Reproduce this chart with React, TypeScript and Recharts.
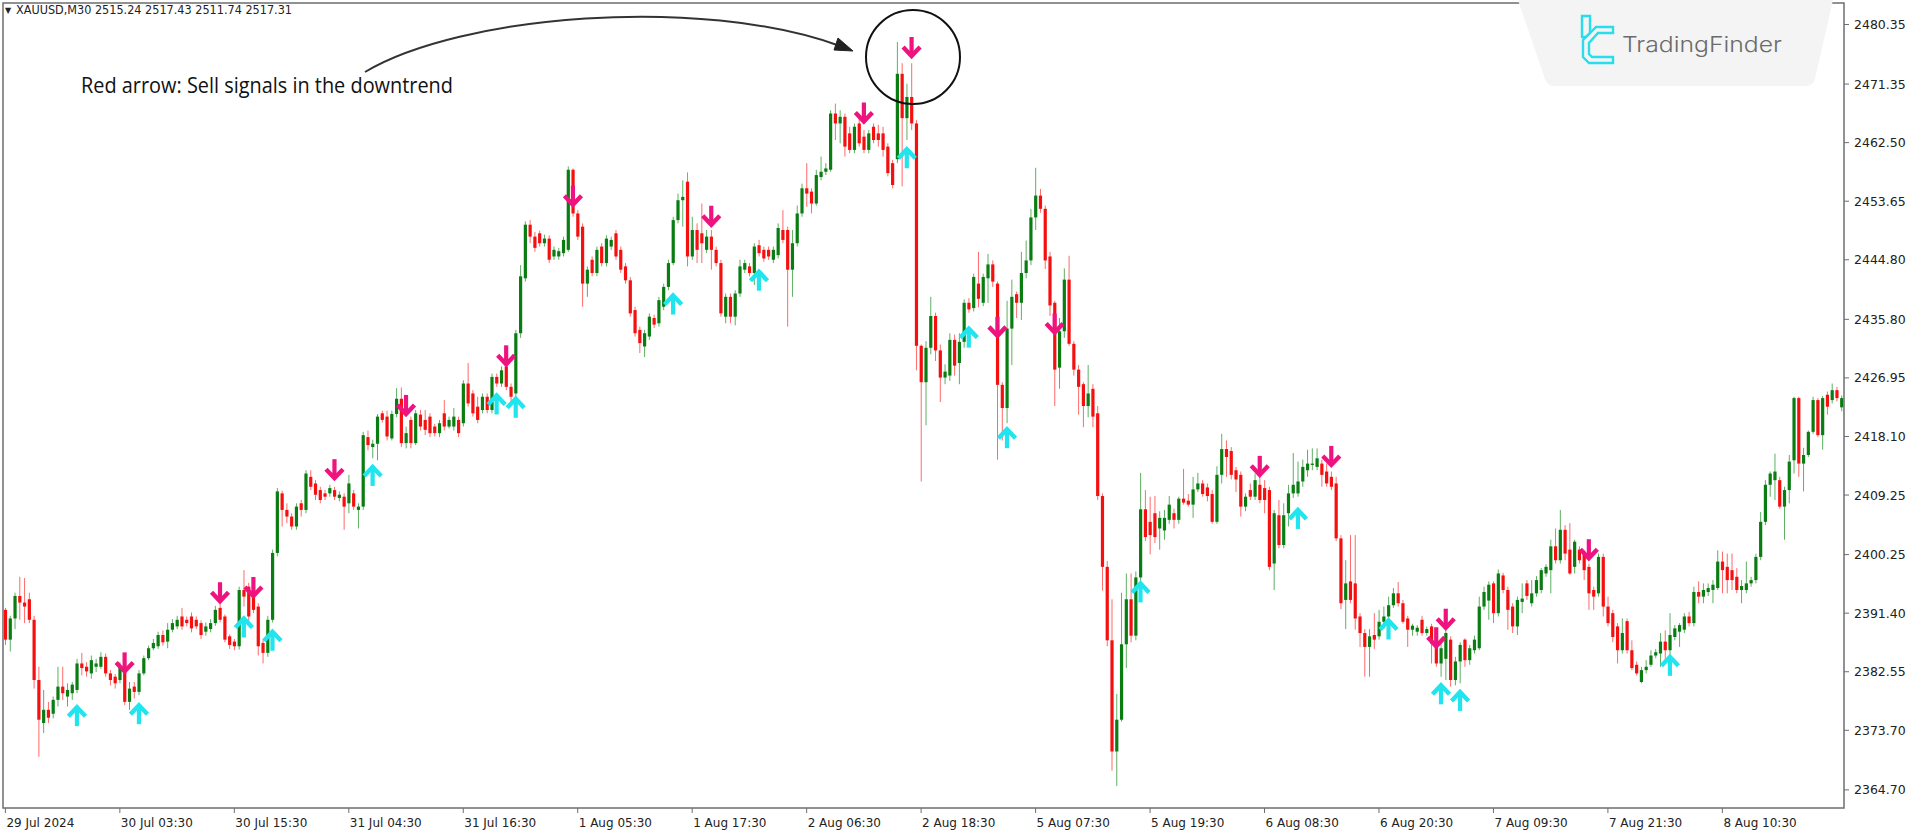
import React from "react";
import { ComposedChart, Bar, Line, XAxis, YAxis } from "recharts";

type C = [number, number, number, number]; // open, high, low, close

const jul29: C[] = [
  [2391.9, 2392.2, 2386.6, 2387.4], [2387.4, 2391.0, 2385.6, 2390.6], [2390.6, 2394.5, 2389.0, 2394.0], [2394.0, 2396.9, 2390.4, 2393.0],
  [2393.0, 2396.7, 2389.9, 2392.4], [2393.5, 2394.5, 2389.9, 2390.4], [2390.4, 2391.0, 2380.0, 2381.3], [2381.3, 2383.3, 2369.7, 2375.3],
  [2374.8, 2379.8, 2373.3, 2376.8], [2376.8, 2378.0, 2374.8, 2375.6], [2376.2, 2378.8, 2375.5, 2378.3], [2378.3, 2383.3, 2377.3, 2380.3],
  [2380.3, 2383.3, 2378.3, 2379.3], [2378.8, 2380.8, 2377.3, 2379.8], [2379.3, 2381.0, 2378.3, 2380.6], [2379.8, 2384.5, 2379.3, 2383.8],
  [2383.8, 2385.4, 2382.0, 2383.1], [2383.3, 2384.0, 2381.8, 2382.6], [2382.3, 2385.0, 2381.5, 2384.3],
];
const jul30: C[] = [
  [2383.3, 2384.5, 2382.5, 2383.8], [2383.3, 2385.5, 2383.0, 2384.8], [2384.8, 2385.3, 2381.8, 2382.3], [2382.3, 2382.8, 2380.5, 2381.3],
  [2381.8, 2382.2, 2380.0, 2380.8], [2381.3, 2384.0, 2380.8, 2383.3], [2383.3, 2384.3, 2377.5, 2378.0], [2378.0, 2381.0, 2376.8, 2380.0],
  [2380.3, 2381.0, 2378.5, 2379.5], [2379.5, 2382.8, 2379.0, 2382.3], [2382.3, 2385.0, 2382.0, 2384.6], [2384.6, 2386.5, 2384.3, 2386.1],
  [2386.1, 2387.5, 2385.8, 2386.9], [2386.4, 2388.6, 2386.0, 2388.1], [2388.1, 2388.8, 2386.5, 2387.0], [2387.1, 2389.9, 2386.1, 2388.9],
  [2388.9, 2390.5, 2388.5, 2389.9], [2389.4, 2391.0, 2389.0, 2390.4], [2390.9, 2392.2, 2388.9, 2389.4], [2390.4, 2390.9, 2389.4, 2389.9],
  [2390.9, 2391.5, 2388.5, 2389.1], [2390.4, 2390.9, 2389.0, 2389.4], [2389.9, 2390.3, 2387.5, 2388.1], [2388.6, 2390.0, 2388.0, 2389.4],
  [2389.0, 2390.5, 2388.5, 2389.9], [2389.9, 2392.5, 2389.5, 2391.9], [2392.2, 2392.8, 2390.0, 2390.4], [2390.9, 2391.2, 2387.0, 2387.4],
  [2387.9, 2388.2, 2386.0, 2386.6], [2387.1, 2387.5, 2385.8, 2386.4], [2386.4, 2395.4, 2385.9, 2394.9], [2394.9, 2397.9, 2392.4, 2393.9],
  [2395.4, 2396.0, 2390.0, 2390.9], [2394.9, 2396.5, 2391.4, 2391.9], [2392.4, 2392.9, 2385.0, 2386.4], [2386.9, 2387.5, 2383.8, 2385.4],
  [2385.4, 2391.0, 2384.8, 2390.4], [2390.4, 2401.0, 2390.0, 2400.5], [2400.5, 2410.3, 2400.0, 2409.8], [2409.5, 2409.9, 2404.5, 2407.0],
  [2407.0, 2408.0, 2405.0, 2406.0], [2406.0, 2406.5, 2404.0, 2404.5], [2404.5, 2408.0, 2404.0, 2407.5], [2408.0, 2408.5, 2406.0, 2407.0],
  [2407.0, 2413.0, 2406.5, 2412.5], [2412.0, 2413.0, 2410.0, 2410.5],
];
const jul31: C[] = [
  [2411.0, 2411.5, 2408.5, 2409.3], [2410.0, 2410.5, 2408.0, 2408.5], [2409.5, 2410.0, 2408.5, 2409.0], [2409.5, 2410.8, 2409.0, 2410.3],
  [2410.0, 2410.5, 2408.5, 2409.0], [2408.8, 2409.8, 2408.3, 2409.3], [2409.0, 2409.5, 2404.0, 2407.5], [2408.0, 2412.3, 2406.5, 2411.0],
  [2409.5, 2410.0, 2407.0, 2407.5], [2407.0, 2408.0, 2404.2, 2407.5], [2407.5, 2418.8, 2407.0, 2418.3], [2418.0, 2419.0, 2416.0, 2416.8],
  [2416.5, 2417.6, 2414.8, 2417.0], [2417.0, 2421.5, 2414.5, 2421.1], [2421.6, 2422.0, 2420.2, 2420.6], [2421.1, 2422.0, 2417.5, 2418.1],
  [2417.8, 2422.0, 2417.5, 2421.5], [2421.5, 2425.4, 2421.0, 2423.8], [2423.8, 2425.5, 2416.5, 2417.1], [2417.1, 2419.6, 2416.3, 2418.6],
  [2420.6, 2421.1, 2416.3, 2417.1], [2417.1, 2422.1, 2416.8, 2421.6], [2421.4, 2422.1, 2419.0, 2419.6], [2420.6, 2422.1, 2418.3, 2419.1],
  [2421.1, 2421.6, 2418.0, 2418.6], [2419.6, 2420.0, 2418.1, 2418.6], [2418.6, 2420.6, 2418.0, 2420.1], [2421.6, 2423.6, 2419.0, 2419.6],
  [2419.6, 2421.1, 2419.3, 2420.6], [2419.6, 2422.4, 2419.0, 2421.1], [2420.6, 2421.1, 2418.0, 2418.6], [2420.1, 2426.6, 2419.6, 2426.1],
  [2426.1, 2429.2, 2422.6, 2423.1], [2424.6, 2425.1, 2421.1, 2421.6], [2422.6, 2424.1, 2420.1, 2420.6], [2422.1, 2424.6, 2421.6, 2424.1],
  [2424.1, 2424.6, 2421.6, 2422.1], [2422.1, 2427.6, 2421.6, 2427.1], [2427.1, 2427.6, 2425.6, 2426.1], [2426.1, 2428.7, 2425.6, 2428.1],
  [2428.7, 2429.2, 2425.1, 2425.6], [2425.6, 2426.1, 2423.3, 2424.1], [2424.6, 2434.2, 2424.1, 2433.7], [2433.7, 2444.0, 2433.0, 2442.3],
  [2442.0, 2450.6, 2441.5, 2450.1], [2450.1, 2450.8, 2447.3, 2448.3],
];
const aug1: C[] = [
  [2448.3, 2449.0, 2446.0, 2446.6], [2448.8, 2449.2, 2446.8, 2447.3], [2447.3, 2448.6, 2446.8, 2448.0], [2448.0, 2448.5, 2444.3, 2444.8],
  [2445.3, 2446.8, 2444.8, 2446.3], [2445.3, 2446.6, 2444.8, 2446.1], [2445.8, 2448.3, 2445.3, 2447.8], [2446.3, 2458.9, 2446.0, 2458.4],
  [2458.4, 2458.6, 2451.3, 2451.8], [2451.8, 2452.3, 2447.8, 2448.3], [2449.8, 2450.3, 2437.7, 2441.2], [2441.2, 2443.8, 2439.2, 2443.3],
  [2444.8, 2445.3, 2442.3, 2442.8], [2442.8, 2446.8, 2442.3, 2446.3], [2446.8, 2447.3, 2443.8, 2444.3], [2444.3, 2448.5, 2443.8, 2448.0],
  [2446.8, 2448.3, 2446.3, 2447.8], [2448.8, 2449.3, 2444.8, 2445.3], [2446.3, 2446.8, 2442.8, 2443.3], [2443.8, 2444.3, 2441.2, 2441.7],
  [2441.7, 2442.2, 2436.2, 2436.7], [2437.2, 2437.7, 2433.2, 2433.7], [2434.2, 2434.7, 2430.7, 2432.2], [2431.7, 2434.2, 2430.1, 2433.7],
  [2433.2, 2436.7, 2432.7, 2436.2], [2436.0, 2436.5, 2434.5, 2435.0], [2435.2, 2439.2, 2434.7, 2438.7], [2437.7, 2441.2, 2437.2, 2440.7],
  [2440.7, 2444.8, 2440.2, 2444.3], [2444.3, 2451.3, 2444.0, 2450.8], [2450.8, 2454.8, 2450.3, 2453.8], [2453.8, 2456.8, 2449.8, 2454.3],
  [2456.6, 2458.0, 2443.8, 2445.3], [2445.3, 2451.3, 2444.8, 2449.3], [2449.3, 2450.3, 2444.3, 2446.3], [2448.8, 2453.3, 2444.3, 2447.3],
  [2446.3, 2449.3, 2445.8, 2448.3], [2448.3, 2449.3, 2443.3, 2446.3], [2446.3, 2446.8, 2443.8, 2444.3], [2444.3, 2444.8, 2436.2, 2436.7],
  [2436.2, 2439.7, 2435.2, 2439.2], [2439.2, 2439.7, 2435.2, 2436.2], [2436.2, 2440.2, 2434.9, 2439.7], [2439.7, 2444.8, 2439.2, 2443.8],
  [2443.3, 2444.8, 2442.8, 2444.3], [2443.8, 2444.3, 2442.3, 2442.8],
];
const aug2: C[] = [
  [2442.8, 2447.3, 2441.0, 2446.8], [2447.0, 2447.8, 2445.3, 2445.8], [2446.3, 2446.8, 2444.5, 2445.0], [2446.3, 2446.8, 2444.8, 2445.3],
  [2444.8, 2446.8, 2444.3, 2446.3], [2445.5, 2450.3, 2445.0, 2449.6], [2449.3, 2452.3, 2447.3, 2447.8], [2449.3, 2449.8, 2434.7, 2443.3],
  [2443.3, 2449.3, 2439.2, 2447.3], [2447.3, 2453.0, 2446.8, 2451.8], [2451.8, 2456.3, 2451.3, 2455.6], [2455.6, 2459.4, 2452.8, 2454.8],
  [2455.1, 2455.6, 2451.8, 2453.3], [2453.3, 2458.4, 2453.0, 2457.6], [2457.3, 2460.4, 2456.8, 2458.1], [2458.1, 2459.4, 2457.6, 2458.6],
  [2458.4, 2467.4, 2458.1, 2466.9], [2466.9, 2468.4, 2462.9, 2465.4], [2465.4, 2467.4, 2462.4, 2466.4], [2466.4, 2466.9, 2460.4, 2461.9],
  [2463.9, 2464.9, 2460.9, 2461.4], [2461.4, 2465.4, 2460.9, 2464.9], [2465.4, 2466.4, 2461.9, 2462.4], [2463.4, 2464.4, 2460.9, 2461.4],
  [2461.4, 2464.4, 2460.9, 2463.9], [2464.9, 2465.4, 2462.4, 2462.9], [2463.9, 2465.2, 2461.9, 2462.9], [2463.9, 2464.9, 2460.4, 2461.4],
  [2461.9, 2462.4, 2457.4, 2457.9], [2459.4, 2459.9, 2455.6, 2456.1], [2460.0, 2477.7, 2459.4, 2472.9], [2472.9, 2474.5, 2455.9, 2466.2],
  [2466.2, 2471.4, 2462.9, 2469.4], [2469.4, 2474.5, 2464.4, 2465.4], [2465.4, 2465.9, 2428.1, 2431.8], [2431.8, 2432.0, 2411.3, 2426.3],
  [2426.3, 2432.5, 2419.8, 2431.5], [2431.5, 2439.2, 2430.5, 2436.3], [2436.3, 2436.8, 2429.5, 2431.1], [2431.1, 2432.0, 2423.3, 2427.0],
  [2427.0, 2429.0, 2426.0, 2427.9], [2427.3, 2433.7, 2426.5, 2432.7], [2432.7, 2433.5, 2427.3, 2428.8], [2429.2, 2433.7, 2426.0, 2432.4],
  [2432.4, 2438.8, 2431.5, 2438.3], [2438.3, 2439.0, 2436.8, 2437.3],
];
const aug5: C[] = [
  [2437.5, 2442.7, 2437.0, 2442.2], [2441.2, 2446.0, 2437.6, 2438.9], [2438.3, 2442.7, 2437.8, 2442.2], [2442.0, 2445.7, 2438.3, 2444.1],
  [2444.1, 2444.7, 2440.7, 2441.5], [2441.2, 2441.5, 2414.6, 2425.9], [2425.9, 2426.3, 2417.5, 2422.4], [2422.4, 2438.6, 2420.1, 2434.4],
  [2434.4, 2441.8, 2428.9, 2439.2], [2439.6, 2440.0, 2436.0, 2438.3], [2438.3, 2446.0, 2435.7, 2442.8], [2442.8, 2447.7, 2442.0, 2444.7],
  [2444.7, 2452.5, 2444.0, 2451.2], [2451.2, 2458.7, 2449.3, 2454.5], [2454.5, 2455.5, 2451.9, 2452.5], [2452.5, 2453.0, 2443.4, 2444.7],
  [2445.3, 2446.0, 2436.3, 2437.9], [2438.3, 2438.6, 2422.7, 2428.2], [2428.5, 2436.0, 2425.3, 2434.0], [2434.0, 2443.5, 2433.0, 2441.8],
  [2441.8, 2445.4, 2431.8, 2432.1], [2432.1, 2432.5, 2427.3, 2428.2], [2428.2, 2428.9, 2421.4, 2425.6], [2426.0, 2426.3, 2419.5, 2422.7],
  [2422.7, 2428.9, 2421.0, 2424.6], [2425.3, 2426.0, 2419.5, 2421.1], [2421.6, 2422.7, 2408.5, 2409.1], [2409.1, 2409.5, 2394.8, 2398.4],
  [2398.4, 2399.3, 2386.4, 2387.3], [2387.3, 2393.5, 2367.6, 2370.5], [2370.5, 2379.2, 2365.3, 2375.3], [2375.3, 2394.5, 2375.0, 2386.7],
  [2386.7, 2397.4, 2383.1, 2393.5], [2393.5, 2397.4, 2387.0, 2388.0], [2388.0, 2397.7, 2387.3, 2396.8], [2396.8, 2412.6, 2396.0, 2407.1],
  [2407.1, 2410.0, 2402.3, 2402.9], [2405.2, 2409.0, 2400.3, 2403.2], [2406.5, 2409.1, 2402.0, 2402.9], [2404.2, 2406.8, 2401.0, 2405.8],
  [2403.9, 2407.0, 2402.5, 2405.8], [2405.5, 2409.1, 2404.9, 2407.8], [2406.5, 2407.2, 2404.2, 2405.5], [2405.5, 2409.0, 2404.9, 2408.7],
  [2408.7, 2413.2, 2407.8, 2408.1], [2408.4, 2409.4, 2407.5, 2407.8],
];
const aug6: C[] = [
  [2407.8, 2412.0, 2405.8, 2410.1], [2410.1, 2412.6, 2409.7, 2411.0], [2411.0, 2411.5, 2409.0, 2409.4], [2410.4, 2411.0, 2408.3, 2409.1],
  [2409.4, 2410.0, 2404.9, 2405.2], [2405.2, 2413.6, 2404.9, 2412.3], [2412.3, 2418.5, 2411.0, 2416.2], [2416.2, 2417.5, 2412.0, 2415.0],
  [2415.9, 2416.5, 2411.6, 2412.3], [2413.0, 2413.5, 2409.7, 2411.6], [2412.3, 2412.8, 2406.0, 2407.5], [2407.5, 2409.5, 2406.8, 2409.0],
  [2410.0, 2411.0, 2408.5, 2409.0], [2409.0, 2412.5, 2408.5, 2411.5], [2410.8, 2412.0, 2408.0, 2408.5], [2410.3, 2411.5, 2406.5, 2408.5],
  [2410.0, 2410.5, 2397.9, 2398.4], [2398.9, 2407.0, 2394.9, 2406.5], [2406.2, 2408.5, 2401.2, 2401.7], [2401.7, 2408.0, 2401.2, 2406.2],
  [2406.5, 2410.8, 2404.5, 2409.5], [2409.5, 2415.6, 2408.8, 2410.8], [2409.5, 2414.3, 2409.0, 2411.3], [2411.3, 2414.6, 2410.5, 2413.5],
  [2413.0, 2416.1, 2412.0, 2414.0], [2413.8, 2416.3, 2413.0, 2414.0], [2413.5, 2416.3, 2413.0, 2414.8], [2414.0, 2414.6, 2410.5, 2412.3],
  [2412.8, 2414.0, 2410.5, 2411.0], [2412.0, 2412.8, 2410.0, 2410.5], [2411.0, 2412.0, 2402.3, 2402.7], [2402.7, 2403.2, 2392.0, 2392.9],
  [2393.4, 2399.4, 2389.0, 2395.9], [2396.2, 2403.2, 2392.9, 2393.4], [2395.9, 2403.2, 2388.9, 2390.6], [2390.9, 2391.4, 2386.3, 2388.4],
  [2388.4, 2389.0, 2381.8, 2386.3], [2386.3, 2389.0, 2381.8, 2387.9], [2388.1, 2391.4, 2386.0, 2387.4], [2387.9, 2391.9, 2387.4, 2390.1],
  [2390.1, 2392.4, 2389.0, 2390.9], [2390.9, 2393.9, 2390.4, 2392.6], [2392.6, 2395.2, 2392.2, 2394.4], [2394.4, 2396.1, 2392.4, 2392.9],
  [2392.9, 2393.4, 2389.8, 2390.1], [2390.6, 2391.0, 2386.3, 2388.9],
];
const aug7: C[] = [
  [2388.9, 2389.8, 2388.0, 2389.5], [2388.6, 2389.6, 2388.0, 2389.2], [2390.4, 2391.0, 2388.0, 2388.4], [2388.4, 2389.4, 2388.0, 2389.0],
  [2389.4, 2389.8, 2383.8, 2386.8], [2386.8, 2387.2, 2383.3, 2383.8], [2383.8, 2387.4, 2381.8, 2386.1], [2384.5, 2388.8, 2381.3, 2388.4],
  [2387.4, 2387.9, 2380.3, 2381.3], [2381.3, 2384.8, 2380.5, 2384.1], [2384.1, 2387.0, 2380.8, 2386.6], [2387.4, 2387.6, 2383.3, 2384.3],
  [2384.3, 2386.6, 2383.6, 2386.1], [2385.8, 2388.0, 2385.3, 2387.4], [2386.1, 2393.9, 2385.8, 2392.4], [2392.4, 2395.4, 2391.9, 2394.6],
  [2393.3, 2396.2, 2390.4, 2395.7], [2395.9, 2396.2, 2389.9, 2391.4], [2391.4, 2398.0, 2390.9, 2397.4], [2397.1, 2397.5, 2394.4, 2394.9],
  [2394.9, 2395.4, 2388.9, 2391.9], [2392.4, 2392.9, 2388.4, 2389.4], [2389.4, 2393.9, 2388.1, 2393.4], [2393.1, 2395.9, 2391.4, 2393.6],
  [2395.9, 2396.4, 2393.4, 2394.0], [2392.9, 2396.4, 2392.4, 2394.4], [2394.4, 2397.0, 2393.9, 2396.4], [2394.9, 2398.2, 2394.4, 2397.9],
  [2397.4, 2398.8, 2396.9, 2398.4], [2397.9, 2402.5, 2394.4, 2401.5], [2401.5, 2404.2, 2398.9, 2399.4], [2399.4, 2407.0, 2398.9, 2404.0],
  [2404.0, 2404.7, 2399.4, 2400.4], [2401.0, 2405.0, 2397.2, 2397.4], [2398.4, 2402.5, 2397.4, 2402.2], [2401.0, 2401.5, 2398.9, 2399.4],
  [2400.4, 2400.9, 2396.4, 2397.9], [2398.4, 2398.9, 2391.9, 2394.4], [2394.9, 2395.4, 2391.9, 2393.9], [2394.4, 2400.4, 2393.9, 2399.9],
  [2399.9, 2400.4, 2390.9, 2392.4], [2392.4, 2393.9, 2389.4, 2389.9], [2391.4, 2391.9, 2387.0, 2387.8], [2389.4, 2389.9, 2383.8, 2385.8],
  [2385.8, 2390.6, 2385.3, 2388.4], [2390.2, 2390.6, 2385.3, 2385.8],
];
const aug8: C[] = [
  [2385.8, 2387.3, 2382.8, 2383.1], [2383.6, 2384.1, 2382.0, 2382.3], [2381.0, 2383.3, 2380.8, 2382.8], [2382.8, 2384.3, 2382.3, 2383.3],
  [2383.6, 2385.8, 2383.3, 2385.0], [2385.0, 2386.0, 2384.6, 2385.5], [2385.3, 2388.4, 2383.3, 2387.1], [2387.1, 2388.8, 2384.3, 2385.8],
  [2385.8, 2391.4, 2385.1, 2388.1], [2387.8, 2389.6, 2387.3, 2389.1], [2388.6, 2389.9, 2386.3, 2389.6], [2388.9, 2391.4, 2388.4, 2390.9],
  [2390.9, 2391.6, 2389.4, 2389.9], [2389.9, 2395.4, 2389.4, 2394.6], [2394.6, 2396.2, 2392.9, 2393.9], [2393.9, 2395.9, 2392.9, 2394.9],
  [2394.6, 2395.9, 2394.0, 2395.2], [2394.9, 2396.4, 2392.9, 2395.7], [2395.2, 2400.9, 2394.9, 2399.2], [2399.2, 2400.7, 2394.4, 2397.9],
  [2398.4, 2400.4, 2394.4, 2396.4], [2397.9, 2400.4, 2394.9, 2396.4], [2396.9, 2398.2, 2394.4, 2394.9], [2394.9, 2396.4, 2392.9, 2395.5],
  [2394.9, 2399.2, 2394.4, 2395.9], [2395.9, 2396.9, 2395.4, 2396.4], [2396.4, 2400.4, 2395.9, 2399.9], [2399.9, 2406.7, 2399.4, 2405.2],
  [2405.2, 2411.5, 2404.7, 2410.8], [2410.8, 2412.8, 2409.0, 2412.5], [2411.5, 2415.5, 2408.5, 2412.8], [2411.5, 2412.0, 2407.2, 2407.5],
  [2407.5, 2410.5, 2402.5, 2410.0], [2410.0, 2415.3, 2408.0, 2414.3], [2414.5, 2424.1, 2412.5, 2423.9], [2423.9, 2424.1, 2412.0, 2414.0],
  [2414.0, 2416.4, 2409.8, 2415.3], [2415.3, 2419.0, 2415.0, 2418.8], [2418.8, 2424.1, 2418.5, 2423.6], [2423.6, 2423.9, 2418.0, 2418.3],
  [2418.3, 2424.2, 2416.1, 2423.9], [2424.4, 2424.9, 2421.4, 2422.6], [2423.6, 2426.1, 2423.1, 2425.1], [2425.1, 2425.6, 2423.4, 2423.9],
  [2422.5, 2424.3, 2421.9, 2423.9],
];

// signal arrows: bar index and price of the arrow tip
const sellBars = [25, 45, 52, 69, 84, 105, 119, 148, 180, 190, 208, 220, 263, 278, 300, 302, 332];
const sellTips = [2382.3, 2392.9, 2393.7, 2411.5, 2421.2, 2428.7, 2452.8, 2449.8, 2465.4, 2475.3, 2433.0, 2433.5, 2412.0, 2413.5, 2386.1, 2388.9, 2399.4];
const buyBars = [15, 28, 50, 56, 77, 103, 107, 140, 158, 189, 202, 210, 238, 271, 290, 301, 305, 349];
const buyTips = [2377.5, 2377.8, 2390.9, 2388.9, 2413.8, 2424.6, 2424.1, 2439.7, 2443.3, 2461.8, 2434.7, 2419.5, 2396.2, 2407.3, 2390.6, 2380.8, 2379.8, 2385.1];

const xTickBars = [0, 24, 48, 72, 96, 120, 144, 168, 192, 216, 240, 264, 288, 312, 336, 360];
const xTickLabels = [
  "29 Jul 2024", "30 Jul 03:30", "30 Jul 15:30", "31 Jul 04:30", "31 Jul 16:30", "1 Aug 05:30", "1 Aug 17:30", "2 Aug 06:30",
  "2 Aug 18:30", "5 Aug 07:30", "5 Aug 19:30", "6 Aug 08:30", "6 Aug 20:30", "7 Aug 09:30", "7 Aug 21:30", "8 Aug 10:30",
];
const yTicks = [2480.35, 2471.35, 2462.5, 2453.65, 2444.8, 2435.8, 2426.95, 2418.1, 2409.25, 2400.25, 2391.4, 2382.55, 2373.7, 2364.7];
const yDomain: [number, number] = [2361.96, 2483.6];

const candles: C[] = [...jul29, ...jul30, ...jul31, ...aug1, ...aug2, ...aug5, ...aug6, ...aug7, ...aug8];

type Row = { i: number; o: number; h: number; l: number; c: number; range: [number, number]; sell: number | null; buy: number | null };
const rows: Row[] = candles.map(([o, h, l, c], i) => {
  const hh = Math.max(h, o, c);
  const ll = Math.min(l, o, c);
  return { i, o, h: hh, l: ll, c, range: [ll, hh], sell: null, buy: null };
});
sellBars.forEach((b, k) => { if (rows[b]) rows[b].sell = sellTips[k]; });
buyBars.forEach((b, k) => { if (rows[b]) rows[b].buy = buyTips[k]; });

const BULL = "#0A7D12";
const BEAR = "#F50F0F";
const BULL_WICK = "#5DB063";
const BEAR_WICK = "#FF6A6A";
const SELL = "#EE137E";
const BUY = "#20E4EE";

const Candle = (props: any) => {
  const { x, y, width, height, payload } = props;
  if (x == null || y == null || !payload) return <g />;
  const top = Math.min(y, y + height);
  const H = Math.abs(height);
  const { o, h, l, c } = payload as Row;
  const span = h - l;
  const py = (v: number) => (span > 0 ? top + ((h - v) / span) * H : top);
  const cx = x + width / 2;
  const up = c >= o;
  const bt = py(Math.max(o, c));
  const bb = py(Math.min(o, c));
  return (
    <g>
      <line x1={cx} x2={cx} y1={top} y2={top + H} stroke={up ? BULL_WICK : BEAR_WICK} strokeWidth={1} />
      <rect x={cx - 1.6} y={bt} width={3.2} height={Math.max(1, bb - bt)} fill={up ? BULL : BEAR} />
    </g>
  );
};

const SellDot = (p: any) => {
  const { cx, cy, value, index } = p;
  if (value == null || cy == null || Number.isNaN(cy) || cx == null) return <g key={"s" + index} />;
  return (
    <g key={"s" + index}>
      <line x1={cx} x2={cx} y1={cy - 21} y2={cy - 3} stroke={SELL} strokeWidth={4.2} />
      <polyline points={`${cx - 8.5},${cy - 11} ${cx},${cy - 2} ${cx + 8.5},${cy - 11}`} fill="none" stroke={SELL} strokeWidth={4.4} strokeLinejoin="miter" />
    </g>
  );
};

const BuyDot = (p: any) => {
  const { cx, cy, value, index } = p;
  if (value == null || cy == null || Number.isNaN(cy) || cx == null) return <g key={"b" + index} />;
  return (
    <g key={"b" + index}>
      <line x1={cx} x2={cx} y1={cy + 3} y2={cy + 21} stroke={BUY} strokeWidth={4.2} />
      <polyline points={`${cx - 8.5},${cy + 11} ${cx},${cy + 2} ${cx + 8.5},${cy + 11}`} fill="none" stroke={BUY} strokeWidth={4.4} strokeLinejoin="miter" />
    </g>
  );
};

const XTick = (p: any) => {
  const { x, y, payload } = p;
  const k = xTickBars.indexOf(payload.value);
  if (k < 0) return <g />;
  return (
    <text x={x + 1} y={y} dy={12} fontSize={12} fontFamily="DejaVu Sans" fill="#222" textAnchor="start">
      {xTickLabels[k]}
    </text>
  );
};

const YTick = (p: any) => {
  const { x, y, payload } = p;
  return (
    <text x={x + 3} y={y} fontSize={12.5} fontFamily="DejaVu Sans" fill="#222" textAnchor="start" dominantBaseline="central">
      {Number(payload.value).toFixed(2)}
    </text>
  );
};

export default function App() {
  return (
    <div style={{ position: "absolute", left: 0, top: 0, width: 1920, height: 840, background: "#fff", overflow: "hidden" }}>
      <ComposedChart width={1920} height={840} data={rows} margin={{ top: 3, right: 0, bottom: 0, left: 3 }} barCategoryGap={0}>
        <XAxis
          dataKey="i"
          type="category"
          ticks={xTickBars}
          interval={0}
          tick={<XTick />}
          height={32}
          axisLine={false}
          tickLine={{ stroke: "#6E6E6E" }}
          tickSize={5}
        />
        <YAxis
          orientation="right"
          type="number"
          domain={yDomain}
          allowDataOverflow
          ticks={yTicks}
          interval={0}
          tick={<YTick />}
          width={76}
          axisLine={false}
          tickLine={{ stroke: "#6E6E6E" }}
          tickSize={5}
        />
        <Bar dataKey="range" shape={<Candle />} isAnimationActive={false} barSize={3} />
        <Line dataKey="sell" stroke="none" dot={SellDot} activeDot={false} isAnimationActive={false} legendType="none" />
        <Line dataKey="buy" stroke="none" dot={BuyDot} activeDot={false} isAnimationActive={false} legendType="none" />
      </ComposedChart>
      <svg width={1920} height={840} style={{ position: "absolute", left: 0, top: 0, pointerEvents: "none" }}>
        <rect x={3} y={3} width={1841} height={805} fill="none" stroke="#6E6E6E" strokeWidth={1.5} />
        <path d="M1518 0 L1833 0 L1815 79 Q1813 86 1806 86 L1554 86 Q1547 86 1545 79 Z" fill="#F4F4F4" />
        <g fill="none" stroke="#27DDEE" strokeWidth={2.4} strokeLinejoin="miter">
          <path d="M1582 16 H1590 V33 L1586 37 H1582 Z" />
          <path d="M1613 27 H1596 L1583 40 V57 L1589 63 H1613 V57 H1592 L1589 54 V43 L1598 33 H1613 Z" />
        </g>
        <text x={1622} y={52} fontSize={22} fontFamily="Inter" fontWeight={300} fill="#6B6B6B" textLength={160} lengthAdjust="spacingAndGlyphs">
          TradingFinder
        </text>
        <text x={5} y={13} fontSize={8} fontFamily="DejaVu Sans" fill="#222">▼</text>
        <text x={16} y={13.5} fontSize={11.5} fontFamily="DejaVu Sans" fill="#222" textLength={276} lengthAdjust="spacingAndGlyphs">
          XAUUSD,M30  2515.24 2517.43 2511.74 2517.31
        </text>
        <text x={81} y={93} fontSize={21} fontFamily="Open Sans" fill="#111" textLength={372} lengthAdjust="spacingAndGlyphs">
          Red arrow: Sell signals in the downtrend
        </text>
        <path d="M365 72 C460 15, 700 -5, 840 46" fill="none" stroke="#333" strokeWidth={2} />
        <path d="M853 51 L834 50 L838 38 Z" fill="#222" stroke="#222" strokeWidth={1} strokeLinejoin="round" />
        <circle cx={913} cy={57} r={47} fill="none" stroke="#111" strokeWidth={2} />
      </svg>
    </div>
  );
}
